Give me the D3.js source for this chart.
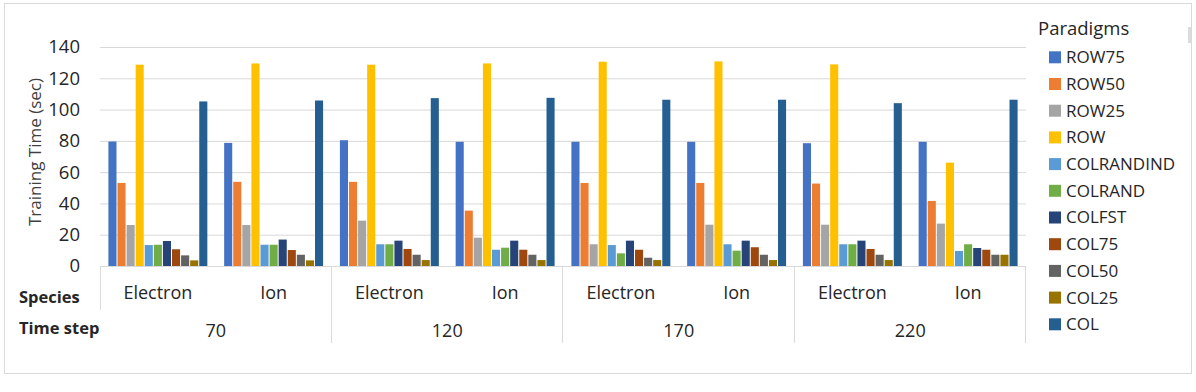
<!DOCTYPE html>
<html>
<head>
    <title>Training time</title>
    <meta http-equiv="content-type" content="text/html; charset=UTF-8">
    <script type="text/javascript" src="https://cdn.jsdelivr.net/npm/d3@7"></script>
</head>
<body style="margin:0;background:#fff">

<style>
    text {
        font-family: "Open Sans", sans-serif;
        fill: #262626;
    }
    .grid line {
        stroke: #d9d9d9;
        stroke-width: 1px;
    }
</style>

<script type="text/javascript">
    // x categories
    var timeSteps = ["70", "120", "170", "220"];
    var species = ["Electron", "Ion"];
    var yTicks = [0, 20, 40, 60, 80, 100, 120, 140];

    // one array per paradigm, order: 70E, 70I, 120E, 120I, 170E, 170I, 220E, 220I
    var ROW75 = [79.6, 78.7, 80.4, 79.4, 79.4, 79.4, 78.5, 79.4];
    var ROW50 = [53.1, 53.8, 53.8, 35.4, 53.1, 53.1, 52.7, 41.6];
    var ROW25 = [26.2, 26.2, 29.0, 18.1, 13.9, 26.4, 26.4, 27.1];
    var ROW = [128.7, 129.5, 128.7, 129.5, 130.6, 130.8, 128.9, 66.1];
    var COLRANDIND = [13.4, 13.6, 13.9, 10.4, 13.4, 13.9, 13.9, 9.6];
    var COLRAND = [13.6, 13.6, 13.9, 11.7, 8.1, 9.8, 13.9, 13.9];
    var COLFST = [16.0, 16.9, 16.2, 16.2, 16.2, 16.2, 16.2, 11.5];
    var COL75 = [10.7, 10.2, 10.9, 10.4, 10.4, 12.0, 10.9, 10.4];
    var COL50 = [6.8, 7.2, 7.2, 7.2, 5.3, 7.2, 7.2, 7.2];
    var COL25 = [3.6, 3.6, 3.8, 3.8, 3.8, 3.8, 3.8, 7.2];
    var COL = [105.2, 105.8, 107.3, 107.5, 106.3, 106.3, 104.1, 106.3];

    var seriesNames = ["ROW75", "ROW50", "ROW25", "ROW", "COLRANDIND", "COLRAND",
        "COLFST", "COL75", "COL50", "COL25", "COL"];
    var seriesValues = [ROW75, ROW50, ROW25, ROW, COLRANDIND, COLRAND,
        COLFST, COL75, COL50, COL25, COL];
    var colors = ["#4472C4", "#ED7D31", "#A5A5A5", "#FFC000", "#5B9BD5", "#70AD47",
        "#264478", "#9E480E", "#636363", "#997300", "#255E91"];

    var width = 1196, height = 392;
    var left = 100, right = 1026, y0 = 266, yTop = 47;

    var svg = d3.select("body").append("svg")
        .attr("width", width)
        .attr("height", height);

    // outer frame
    svg.append("rect")
        .attr("x", 4.5).attr("y", 3.5)
        .attr("width", 1187).attr("height", 370)
        .attr("fill", "none")
        .attr("stroke", "#d9d9d9");

    var groups = [];
    timeSteps.forEach(function (t) {
        species.forEach(function (s) {
            groups.push(t + "|" + s);
        });
    });

    var x0 = d3.scaleBand().domain(groups).range([left, right]);
    var xT = d3.scaleBand().domain(timeSteps).range([left, right]);
    var x1 = d3.scaleBand().domain(seriesNames)
        .range([0, x0.bandwidth()])
        .paddingOuter(0.87);
    var y = d3.scaleLinear().domain([0, 140]).range([y0, yTop]);

    // gridlines + y labels
    var yAxis = d3.axisLeft(y).tickValues(yTicks)
        .tickSize(-(right - left)).tickPadding(20);
    var gy = svg.append("g")
        .attr("class", "grid")
        .attr("transform", "translate(" + left + ",0)")
        .call(yAxis);
    gy.select(".domain").remove();
    gy.selectAll("text")
        .style("font-size", "18.5px")
        .style("fill", "#262626");

    svg.append("text")
        .attr("transform", "translate(35,152) rotate(-90)")
        .attr("text-anchor", "middle")
        .attr("dy", "0.35em")
        .style("font-size", "17px")
        .style("fill", "#404040")
        .text("Training Time (sec)");

    // bars
    var bars = [];
    seriesNames.forEach(function (name, si) {
        seriesValues[si].forEach(function (v, gi) {
            bars.push({ group: groups[gi], series: name, value: v, color: colors[si] });
        });
    });

    svg.append("g").selectAll("rect")
        .data(bars)
        .enter().append("rect")
        .attr("x", function (d) { return x0(d.group) + x1(d.series) + 0.5; })
        .attr("width", x1.bandwidth() - 1)
        .attr("y", function (d) { return y(d.value); })
        .attr("height", function (d) { return y0 - y(d.value); })
        .attr("fill", function (d) { return d.color; });

    // category table lines
    var lines = svg.append("g").attr("stroke", "#d9d9d9").attr("stroke-width", 1);
    lines.append("line")
        .attr("x1", left).attr("x2", right)
        .attr("y1", y0 + 0.5).attr("y2", y0 + 0.5);
    lines.append("line")
        .attr("x1", left + 0.5).attr("x2", left + 0.5)
        .attr("y1", y0).attr("y2", 310);
    lines.selectAll(".sep")
        .data(timeSteps)
        .enter().append("line")
        .attr("x1", function (d) { return Math.round(xT(d) + xT.bandwidth()) - 0.5; })
        .attr("x2", function (d) { return Math.round(xT(d) + xT.bandwidth()) - 0.5; })
        .attr("y1", y0).attr("y2", 343);

    // species labels
    svg.append("g").selectAll("text")
        .data(groups)
        .enter().append("text")
        .attr("x", function (d) { return x0(d) + x0.bandwidth() / 2; })
        .attr("y", 293)
        .attr("dy", "0.35em")
        .attr("text-anchor", "middle")
        .style("font-size", "18px")
        .text(function (d) { return d.split("|")[1]; });

    // time step labels
    svg.append("g").selectAll("text")
        .data(timeSteps)
        .enter().append("text")
        .attr("x", function (d) { return xT(d) + xT.bandwidth() / 2; })
        .attr("y", 331)
        .attr("dy", "0.35em")
        .attr("text-anchor", "middle")
        .style("font-size", "18px")
        .text(function (d) { return d; });

    svg.append("text")
        .attr("x", 19).attr("y", 297).attr("dy", "0.35em")
        .style("font-size", "16.5px").style("font-weight", "bold")
        .text("Species");
    svg.append("text")
        .attr("x", 19).attr("y", 328).attr("dy", "0.35em")
        .style("font-size", "16.5px").style("font-weight", "bold")
        .text("Time step");

    // legend
    svg.append("text")
        .attr("x", 1038).attr("y", 29).attr("dy", "0.35em")
        .style("font-size", "18.5px")
        .text("Paradigms");
    svg.append("rect")
        .attr("x", 1188).attr("y", 27).attr("width", 3).attr("height", 16)
        .attr("fill", "#dcdcdc");

    var legend = svg.append("g").selectAll("g")
        .data(seriesNames)
        .enter().append("g")
        .attr("transform", function (d, i) {
            return "translate(1049," + (57.3 + i * 26.7) + ")";
        });
    legend.append("rect")
        .attr("x", 0).attr("y", -6)
        .attr("width", 12).attr("height", 12)
        .attr("fill", function (d, i) { return colors[i]; });
    legend.append("text")
        .attr("x", 17).attr("dy", "0.35em")
        .style("font-size", "17px")
        .text(function (d) { return d; });
</script>
</body>
</html>
